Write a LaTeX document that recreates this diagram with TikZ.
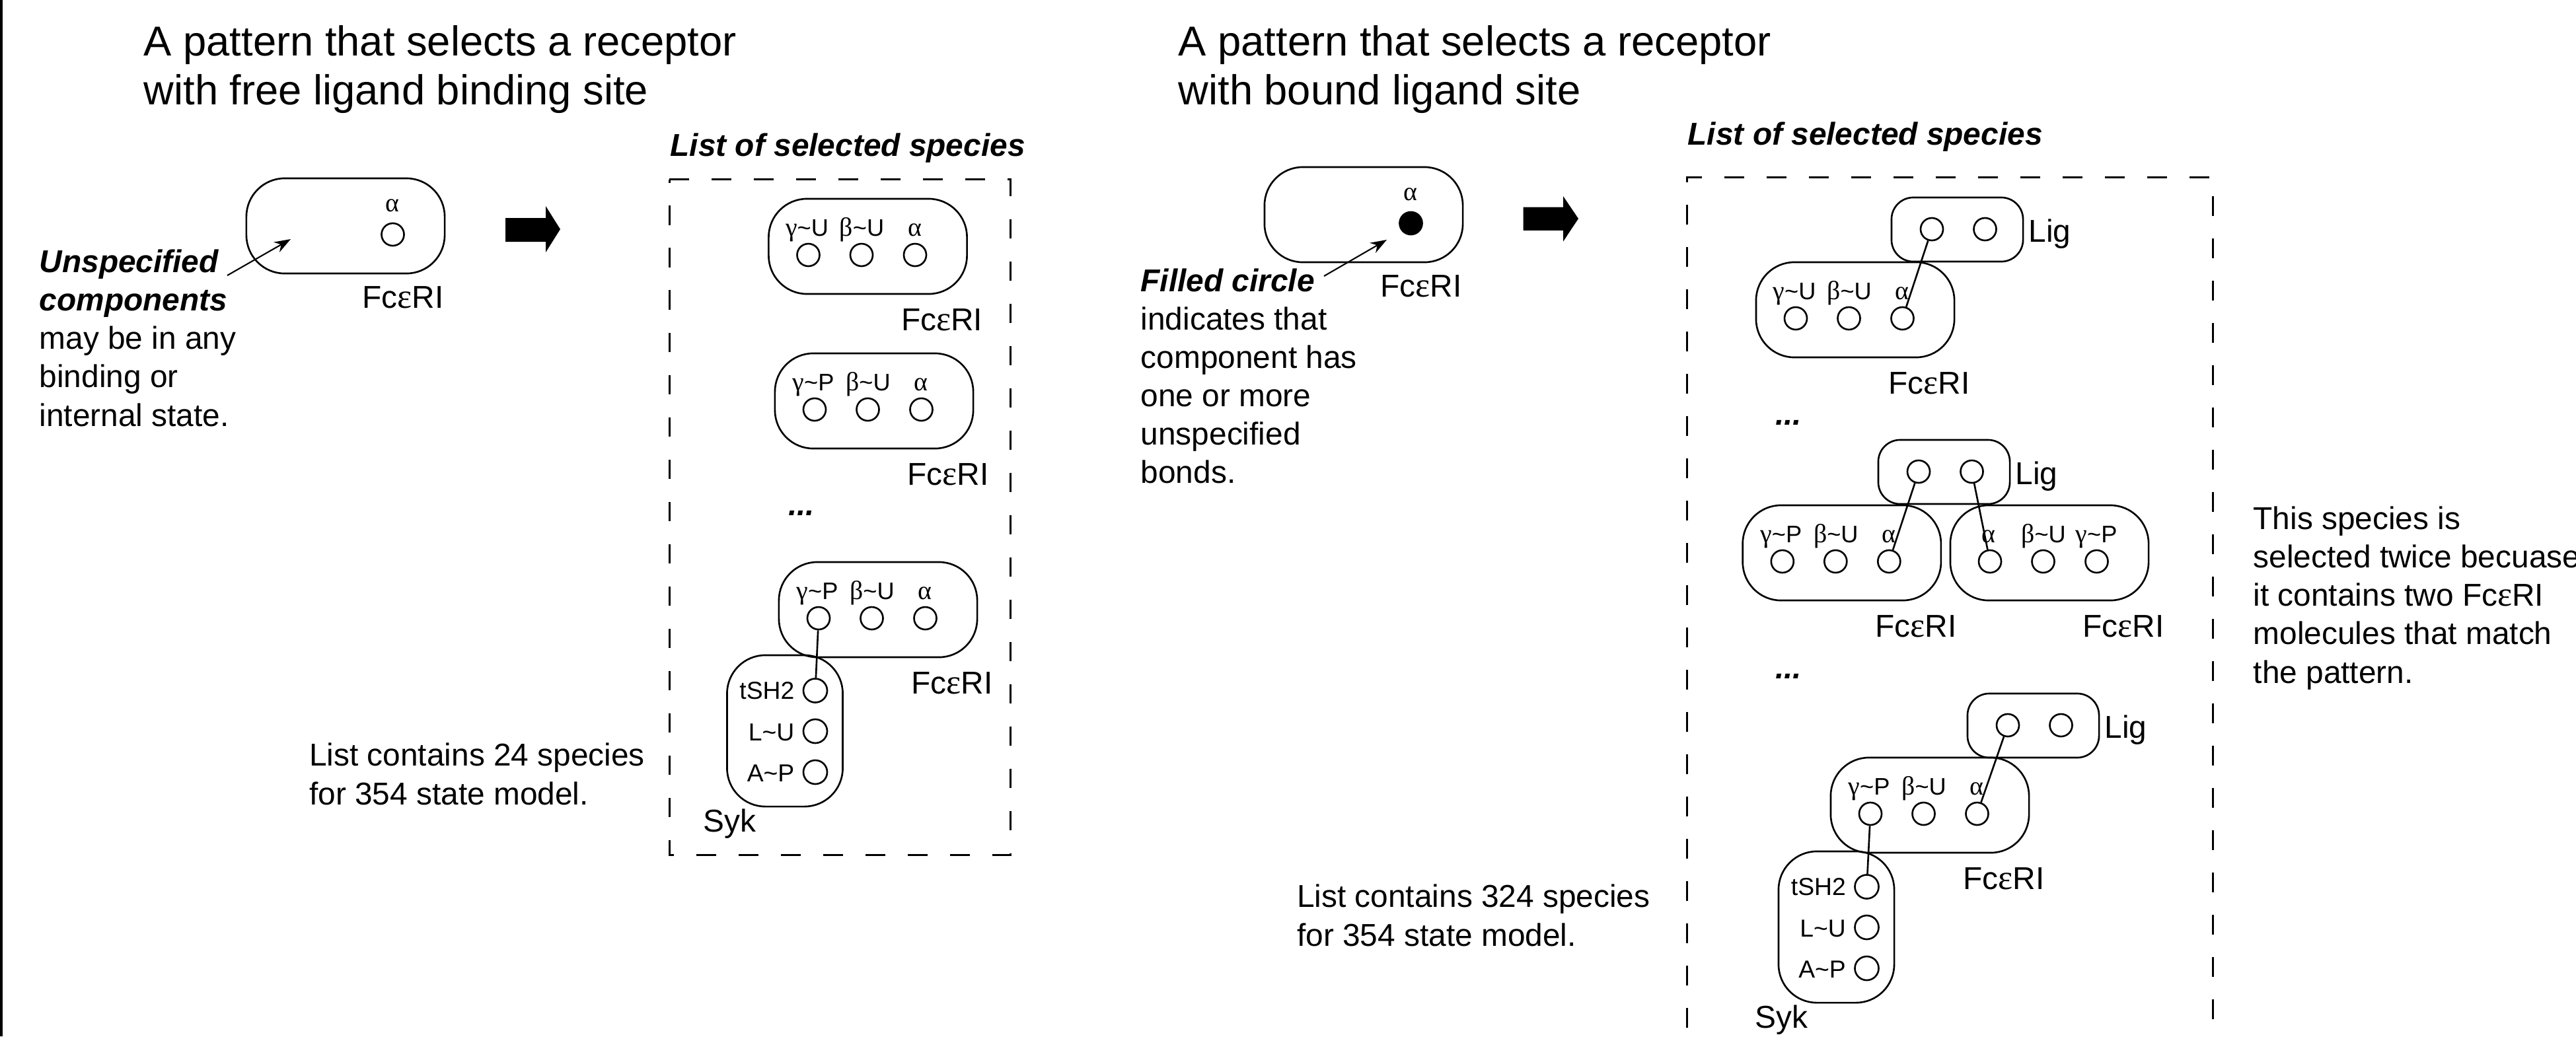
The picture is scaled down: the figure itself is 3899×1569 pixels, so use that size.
\documentclass[tikz,border=0pt]{standalone}
\usepackage{fontspec}
\setmainfont{Liberation Sans}
\newfontfamily\grk[Scale=1.1]{Liberation Serif}
\usetikzlibrary{arrows.meta}

\newcommand\gr[1]{{\grk #1}}
\newcommand\tld{\textasciitilde}
\newcommand\fce{Fc\gr{ε}RI}

\tikzset{
  mol/.style={draw, line width=0.75pt, rounded corners=0.58cm, inner sep=0pt,
    minimum width=3cm, minimum height=1.44cm},
  ligbox/.style={draw, line width=0.75pt, rounded corners=0.33cm, inner sep=0pt,
    minimum width=1.99cm, minimum height=0.97cm},
  sykbox/.style={draw, line width=0.75pt, rounded corners=0.58cm, inner sep=0pt,
    minimum width=1.75cm, minimum height=2.29cm},
  site/.style={circle, draw, line width=0.75pt, inner sep=0pt, minimum size=0.34cm},
  syksite/.style={site, minimum size=0.36cm},
  filled/.style={site, fill=black},
  comp/.style={inner sep=0pt, anchor=base, font=\fontsize{10.3}{12}\selectfont},
  sykcomp/.style={inner sep=0pt, anchor=base east, font=\fontsize{10.6}{12}\selectfont},
  % multi-line text nodes are placed by the baseline of their last line
  txt/.style={inner sep=0pt, anchor=base west, align=left,
    font=\fontsize{13.6}{16.5}\selectfont},
  bitxt/.style={txt, font=\fontsize{13.6}{16.5}\selectfont\bfseries\itshape},
  ttl/.style={inner sep=0pt, anchor=base west, align=left,
    font=\fontsize{18}{20.8}\selectfont},
  bond/.style={line width=0.75pt},
  listframe/.style={line width=0.85pt, dash pattern=on 8.5pt off 9.7pt},
  pointer/.style={line width=0.6pt, -{Stealth[length=7pt,width=5pt]}},
}

% receptor: name, left, top, three component labels
\newcommand\receptor[6]{%
  \node[mol] (#1) at (#2+150, #3+72) {};
  \node[site] (#1-1) at (#2+60, #3+85) {};
  \node[site] (#1-2) at (#2+140.5, #3+85) {};
  \node[site] (#1-3) at (#2+221.5, #3+85) {};
  \node[comp] (#1-l1) at (#2+58, #3+56) {#4};
  \node[comp] (#1-l2) at (#2+141, #3+56) {#5};
  \node[comp] (#1-l3) at (#2+221, #3+56) {#6};
  \node[txt] (#1-nm) at (#2+200, #3+199) {\fce};
}
% pattern receptor: name, left, top, site style
\newcommand\patmol[4]{%
  \node[mol] (#1) at (#2+150, #3+72) {};
  \node[#4] (#1-a) at (#2+221.5, #3+85) {};
  \node[comp] (#1-la) at (#2+221, #3+50) {\gr{α}};
  \node[txt] (#1-nm) at (#2+175, #3+196) {\fce};
}
% ligand: name, left, top
\newcommand\ligand[3]{%
  \node[ligbox] (#1) at (#2+99.5, #3+48.5) {};
  \node[site] (#1-1) at (#2+61, #3+48) {};
  \node[site] (#1-2) at (#2+141.5, #3+48) {};
  \node[txt] (#1-nm) at (#2+207, #3+67) {Lig};
}
% Syk: name, left, top
\newcommand\sykmol[3]{%
  \node[sykbox] (#1) at (#2+87.5, #3+114.5) {};
  \node[syksite] (#1-1) at (#2+133.5, #3+53.5) {};
  \node[syksite] (#1-2) at (#2+133.5, #3+115) {};
  \node[syksite] (#1-3) at (#2+133.5, #3+177) {};
  \node[sykcomp] (#1-l1) at (#2+102.5, #3+66) {tSH2};
  \node[sykcomp] (#1-l2) at (#2+102.5, #3+129.5) {L\tld U};
  \node[sykcomp] (#1-l3) at (#2+102.5, #3+191.5) {A\tld P};
  \node[txt] (#1-nm) at (#2-36.5, #3+267) {Syk};
}

\begin{document}
\begin{tikzpicture}[x=0.01cm, y=-0.01cm]
\useasboundingbox (0,0) rectangle (3899,1569);
\clip (0,0) rectangle (3899,1569);

% left rule
\draw[line width=0.9pt] (2,0) -- (2,1569);

% titles
\node[ttl] (t1) at (217,158) {A pattern that selects a receptor\\with free ligand binding site};
\node[ttl] (t2) at (1783,158) {A pattern that selects a receptor\\with bound ligand site};

% ---------- free ligand site ----------
\patmol{P1}{373}{270}{site}
\node[txt] (n1) at (59,645) {\textbf{\textit{Unspecified}}\\\textbf{\textit{components}}\\may be in any\\binding or\\internal state.};
\coordinate (u0) at (344,417);
\coordinate (u1) at (440,362);
\draw[pointer] (u0) -- (u1);

\fill (765,330) -- (826,330) -- (826,312) -- (848,347) -- (826,382) -- (826,366) -- (765,366) -- cycle;

\node[bitxt] (h1) at (1014,236) {List of selected species};
\draw[listframe] (1013,271.5) -- (1529,271.5) -- (1529,1294.5) -- (1013,1294.5) -- cycle;

\receptor{L1}{1163.5}{301}{\gr{γ}\tld U}{\gr{β}\tld U}{\gr{α}}
\receptor{L2}{1173}{535}{\gr{γ}\tld P}{\gr{β}\tld U}{\gr{α}}
\node[bitxt] (d1) at (1192.5,780) {...};
\receptor{L3}{1179}{851}{\gr{γ}\tld P}{\gr{β}\tld U}{\gr{α}}
\sykmol{L3s}{1100.5}{992}
\draw[bond] (L3-1) -- (L3s-1);

\node[txt] (n3) at (467.5,1218) {List contains 24 species\\for 354 state model.};

% ---------- bound ligand site ----------
\patmol{P2}{1914}{253}{filled}
\node[txt] (n2) at (1726,731.5) {\textbf{\textit{Filled circle}}\\indicates that\\component has\\one or more\\unspecified\\bonds.};
\coordinate (f0) at (2004,418);
\coordinate (f1) at (2099,363);
\draw[pointer] (f0) -- (f1);

\fill (2305.6,313.7) -- (2366,313.7) -- (2366,297) -- (2389,331) -- (2366,365.6) -- (2366,348.8) -- (2305.6,348.8) -- cycle;

\node[bitxt] (h2) at (2554,219.5) {List of selected species};
\draw[listframe] (2553,1620) |- (3349.6,268.6) -- (3349.6,1620);

\receptor{R1}{2658}{397}{\gr{γ}\tld U}{\gr{β}\tld U}{\gr{α}}
\ligand{R1l}{2863}{299}
\draw[bond] (R1l-1) -- (R1-3);
\node[bitxt] (d2) at (2686.6,643) {...};

\ligand{R2l}{2843}{666}
\receptor{R2a}{2637.8}{765}{\gr{γ}\tld P}{\gr{β}\tld U}{\gr{α}}
\receptor{R2b}{2952}{765}{\gr{α}}{\gr{β}\tld U}{\gr{γ}\tld P}
\draw[bond] (R2l-1) -- (R2a-3);
\draw[bond] (R2l-2) -- (R2b-1);
\node[bitxt] (d3) at (2686.6,1027.5) {...};

\ligand{R3l}{2978}{1050}
\receptor{R3}{2771}{1147}{\gr{γ}\tld P}{\gr{β}\tld U}{\gr{α}}
\sykmol{R3s}{2692}{1289}
\draw[bond] (R3l-1) -- (R3-3);
\draw[bond] (R3-1) -- (R3s-1);

\node[txt] (n4) at (1962.5,1432) {List contains 324 species\\for 354 state model.};
\node[txt] (n5) at (3410,1034) {This species is\\selected twice becuase\\it contains two \fce\\molecules that match\\the pattern.};
\end{tikzpicture}
\end{document}
